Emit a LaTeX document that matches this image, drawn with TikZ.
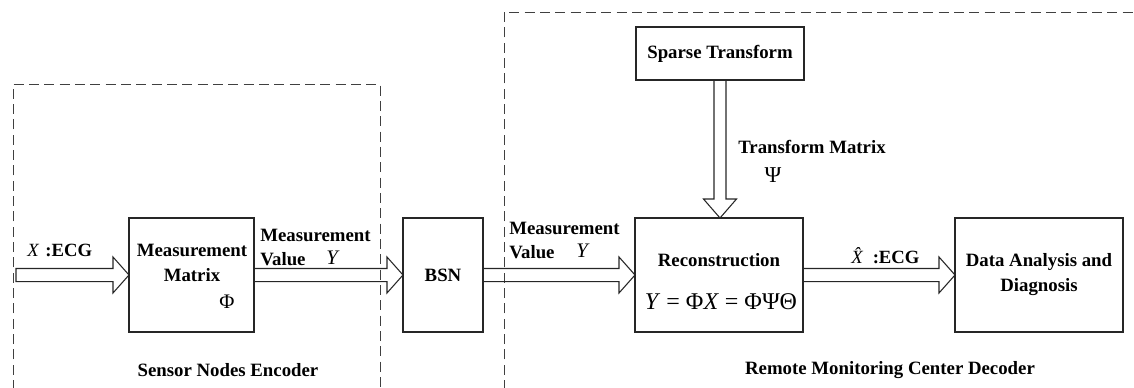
\documentclass[tikz,border=0pt]{standalone}
\usepackage{fontspec}
\setmainfont{Liberation Serif}
\usetikzlibrary{calc}

\tikzset{
  box/.style={draw=black!85, line width=0.9pt, inner sep=0pt, outer sep=0pt},
  blk/.style={draw=black!85, line width=0.8pt, line join=miter},
  grp/.style={draw=black!75, line width=0.7pt, dash pattern=on 7.5pt off 4pt},
  lbl/.style={font=\fontsize{14.1}{18.7}\selectfont\bfseries, inner sep=0pt, align=center},
  lbll/.style={font=\fontsize{14.1}{18.7}\selectfont\bfseries, inner sep=0pt, align=left},
  sym/.style={inner sep=0pt}
}

% horizontal block arrow from #1 to #2 (tip at #2)
\newcommand{\harrow}[2]{%
  \draw[blk] let \p1=(#1), \p2=(#2) in
    (\x1,{\y1+4.9pt}) -- ({\x2-12pt},{\y1+4.9pt}) -- ({\x2-12pt},{\y1+13.5pt})
    -- (\x2,\y1) -- ({\x2-12pt},{\y1-13.5pt}) -- ({\x2-12pt},{\y1-4.9pt})
    -- (\x1,{\y1-4.9pt}) -- cycle;}
% vertical block arrow pointing down from #1 to #2
\newcommand{\varrow}[2]{%
  \draw[blk] let \p1=(#1), \p2=(#2) in
    ({\x1-4.5pt},\y1) -- ({\x1-4.5pt},{\y2+14.25pt}) -- ({\x1-12.4pt},{\y2+14.25pt})
    -- (\x1,\y2) -- ({\x1+12.4pt},{\y2+14.25pt}) -- ({\x1+4.5pt},{\y2+14.25pt})
    -- ({\x1+4.5pt},\y1) -- cycle;}

\begin{document}
\begin{tikzpicture}[x=0.75pt,y=-0.75pt]
\useasboundingbox (0,0) rectangle (1134,388);

% encoder / decoder regions
\draw[grp] (13,390) -- (13,84) -- (380,84) -- (380,390);
\draw[grp] (504,390) -- (504,12) -- (1136,12);

% blocks
\node[box, minimum width=93.75pt, minimum height=85.5pt] (mm)  at (191.5,275) {};
\node[box, minimum width=60pt,    minimum height=85.5pt] (bsn) at (443,275) {};
\node[box, minimum width=126pt,   minimum height=85.5pt] (rec) at (719,275) {};
\node[box, minimum width=126pt,   minimum height=85.5pt] (dad) at (1039,275) {};
\node[box, minimum width=126pt,   minimum height=39.75pt] (st) at (720,53.5) {};

\coordinate (xin) at (16,275);

% connectors
\harrow{xin}{mm.west}
\harrow{mm.east}{bsn.west}
\harrow{bsn.east}{rec.west}
\harrow{rec.east}{dad.west}
\varrow{st.south}{rec.north}

% texts inside blocks
\node[lbl] (mmt) at (192,263) {Measurement\\Matrix};
\node[sym, font=\fontsize{15.5}{15.5}\selectfont] (phi) at (227,302) {Φ};
\node[lbl] (bsnt) at (443,275) {BSN};
\node[lbl] (rect) at (719,260) {Reconstruction};
\node[sym, font=\fontsize{18}{18}\selectfont] (eq) at (721,302) {\textit{Y} = Φ\textit{X} = ΦΨΘ};
\node[lbl] (dadt) at (1039,275) {Data Analysis and\\Diagnosis};
\node[lbl] (stt) at (720,53.5) {Sparse Transform};

% connector labels
\node[sym, anchor=west, font=\fontsize{14}{14}\selectfont] (xl) at (27,250) {\textit{X}\,\,\textbf{:ECG}};
\node[lbll, anchor=west] (mv1) at (260,247.5) {Measurement\\Value};
\node[sym, font=\fontsize{15.5}{15.5}\selectfont] (y1) at (333,258) {\textit{Y}};
\node[lbll, anchor=west] (mv2) at (509,240.5) {Measurement\\Value};
\node[sym, font=\fontsize{15.5}{15.5}\selectfont] (y2) at (583,251) {\textit{Y}};
\node[lbl, anchor=west] (tm) at (738,147) {Transform Matrix};
\node[sym, font=\fontsize{17}{17}\selectfont] (psi) at (773,175) {Ψ};
\node[sym, anchor=west, font=\fontsize{14}{14}\selectfont] (xh) at (851,256) {\textit{\^X}\,\textbf{:ECG}};

% region titles
\node[lbl] (enc) at (228,370) {Sensor Nodes Encoder};
\node[lbl] (dec) at (890,370) {Remote Monitoring Center Decoder};
\end{tikzpicture}
\end{document}
